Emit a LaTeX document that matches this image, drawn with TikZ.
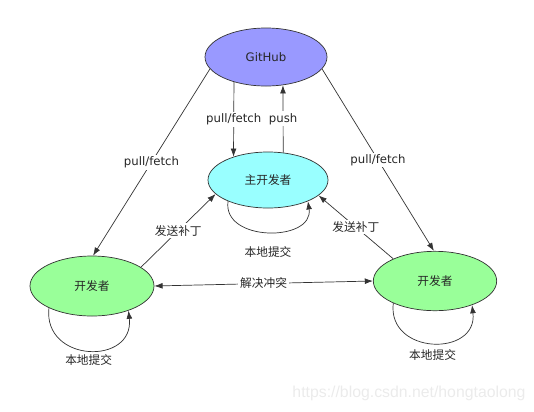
\documentclass[tikz,border=0pt]{standalone}
\usepackage{fontspec}
\setmainfont{DejaVu Sans}
\newfontfamily\cjk{Noto Sans CJK SC}
\newfontfamily\marca{Liberation Sans}
\usetikzlibrary{arrows.meta,shapes.geometric}

\definecolor{ghcolor}{HTML}{9999FF}
\definecolor{maincolor}{HTML}{99FFFF}
\definecolor{devcolor}{HTML}{99FF99}

\tikzset{
    nodo/.style={ellipse, draw=black!80, line width=0.6pt, text=black!85},
    linea/.style={draw=black!80, line width=0.6pt},
    etiq/.style={fill=white, inner sep=1.5pt, text=black!85}
}

\begin{document}
\begin{tikzpicture}[x=0.03cm, y=-0.03cm, >={Latex[length=7pt,width=5pt]}]
        \useasboundingbox (0,0) rectangle (534,411);

        % Repositorios
        \node[nodo, fill=ghcolor, minimum width=3.66cm, minimum height=1.74cm] (gh) at (266,57) {GitHub};
        \node[nodo, fill=maincolor, minimum width=3.6cm, minimum height=1.68cm] (main) at (268,180) {\cjk 主开发者};
        \node[nodo, fill=devcolor, minimum width=3.72cm, minimum height=1.8cm] (ldev) at (92,286) {\cjk 开发者};
        \node[nodo, fill=devcolor, minimum width=3.7cm, minimum height=1.78cm] (rdev) at (435,281) {\cjk 开发者};

        % pull/fetch y push
        \draw[linea, ->] (gh.192) -- (ldev.88) node[etiq, midway] (pf1) {pull/fetch};
        \draw[linea, ->] (gh.348) -- (rdev.92) node[etiq, midway] (pf2) {pull/fetch};
        \draw[linea, ->] (gh.218) -- (main.146) node[etiq, midway] (pf3) {pull/fetch};
        \draw[linea, ->] (main.61) -- (gh.301) node[etiq, midway] (ps) {push};

        % Envio de parches
        \draw[linea, ->] (ldev.21) -- (main.195) node[etiq, midway] (sp1) {\cjk 发送补丁};
        \draw[linea, ->] (rdev.152) -- (main.343) node[etiq, midway] (sp2) {\cjk 发送补丁};

        % Conflictos
        \draw[linea, <->] (ldev.east) -- (rdev.west) node[etiq, midway] (cf) {\cjk 解决冲突};

        % Commits locales
        \foreach \n/\a/\b/\d/\s in {main/208/332/41/-9pt, ldev/207/326/55/0pt, rdev/208/327/52/-2pt}
            \draw[linea, ->] (\n.\a) .. controls +(-6,\d) and +(6,\d) .. (\n.\b)
                node[pos=0.5, below, yshift=\s, text=black!85] (loop\n) {\cjk 本地提交};

        % Marca de agua
        \node[text=black!8, font=\marca\fontsize{13.5}{16}\selectfont] (wm) at (409,393) {https://blog.csdn.net/hongtaolong};
    \end{tikzpicture}
\end{document}
